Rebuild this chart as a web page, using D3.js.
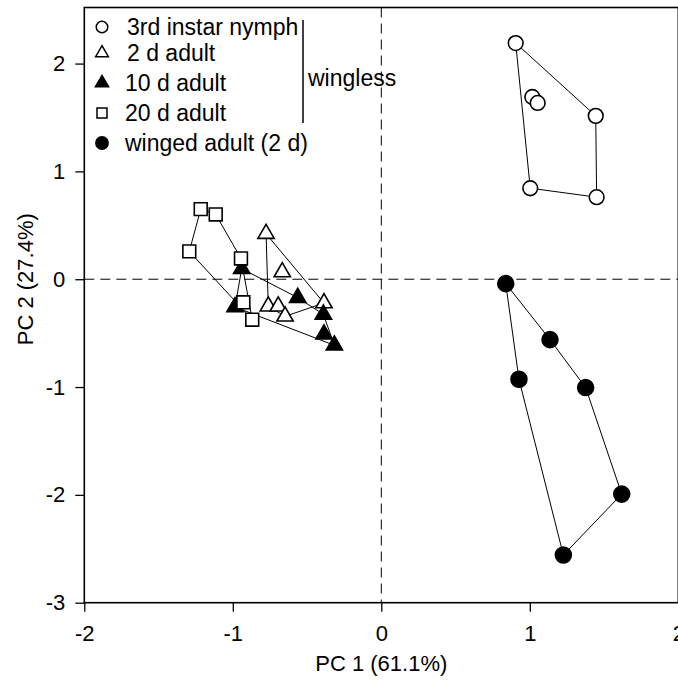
<!DOCTYPE html>
<html>
<head>
<meta charset="utf-8">
<script src="https://cdn.jsdelivr.net/npm/d3@7"></script>
<style>
  body { margin: 0; background: #fff; }
  svg { display: block; font-family: "Liberation Sans", Arial, sans-serif; }
</style>
</head>
<body>
<svg id="chart" width="678" height="684"></svg>
<script>
// group names (legend order)
var groups = ["3rd instar nymph", "2 d adult", "10 d adult", "20 d adult", "winged adult (2 d)"];

// PC scores per group, [pc1, pc2]
var nymph = [[0.905, 2.19], [1.017, 1.69], [1.053, 1.635], [1.444, 1.515], [1.003, 0.844], [1.45, 0.761]];
var adult2 = [[-0.776, 0.422], [-0.667, 0.066], [-0.761, -0.251], [-0.694, -0.251], [-0.648, -0.344], [-0.386, -0.221]];
var adult10 = [[-0.94, 0.098], [-0.563, -0.171], [-0.985, -0.258], [-0.39, -0.326], [-0.386, -0.511], [-0.316, -0.613]];
var adult20 = [[-1.216, 0.65], [-1.115, 0.601], [-1.293, 0.258], [-0.945, 0.193], [-0.929, -0.214], [-0.869, -0.375]];
var winged = [[0.838, -0.041], [1.136, -0.56], [0.927, -0.928], [1.376, -1.005], [1.619, -1.993], [1.226, -2.558]];

var xTicks = [-2, -1, 0, 1, 2];
var yTicks = [-3, -2, -1, 0, 1, 2];

!function () {
    var svg = d3.select("#chart"),
        left = 84.3, right = 678.3, top = 7.5, bottom = 602.7;

    var x = d3.scaleLinear().domain([-2, 2]).range([left, right]),
        y = d3.scaleLinear().domain([-3, 2.52]).range([bottom, top]);

    var sets = [
        {pts: nymph, shape: d3.symbolCircle, fill: "#fff", size: 170, lsize: 105},
        {pts: adult2, shape: d3.symbolTriangle, fill: "#fff", size: 115, lsize: 70},
        {pts: adult10, shape: d3.symbolTriangle, fill: "#000", size: 115, lsize: 75},
        {pts: adult20, shape: d3.symbolSquare, fill: "#fff", size: 165, lsize: 100},
        {pts: winged, shape: d3.symbolCircle, fill: "#000", size: 200, lsize: 120}
    ];

    // zero reference lines
    svg.append("line")
        .attr("x1", x(0)).attr("x2", x(0)).attr("y1", top).attr("y2", bottom)
        .attr("stroke", "#000").attr("stroke-width", 1).attr("stroke-dasharray", "10,6");
    svg.append("line")
        .attr("x1", left).attr("x2", right).attr("y1", y(0)).attr("y2", y(0))
        .attr("stroke", "#000").attr("stroke-width", 1).attr("stroke-dasharray", "10,6");

    // convex hull around each group
    var line = d3.line().x(function (d) { return x(d[0]); }).y(function (d) { return y(d[1]); });
    sets.forEach(function (s) {
        var hull = d3.polygonHull(s.pts);
        svg.append("path")
            .attr("d", line(hull) + "Z")
            .attr("fill", "none")
            .attr("stroke", "#000")
            .attr("stroke-width", 1);
    });

    // markers
    sets.forEach(function (s) {
        svg.selectAll(null)
            .data(s.pts)
            .enter().append("path")
            .attr("transform", function (d) {
                return "translate(" + x(d[0]) + "," + y(d[1]) + ")";
            })
            .attr("d", d3.symbol().type(s.shape).size(s.size))
            .attr("fill", s.fill)
            .attr("stroke", "#000")
            .attr("stroke-width", 1.6);
    });

    // axes
    var ax = svg.append("g")
        .attr("transform", "translate(0," + bottom + ")")
        .call(d3.axisBottom(x).tickValues(xTicks).tickSize(9).tickPadding(14).tickFormat(d3.format("d")));
    var ay = svg.append("g")
        .attr("transform", "translate(" + left + ",0)")
        .call(d3.axisLeft(y).tickValues(yTicks).tickSize(9).tickPadding(10).tickFormat(d3.format("d")));
    [ax, ay].forEach(function (a) {
        a.select(".domain").remove();
        a.selectAll("line").attr("stroke", "#000").attr("stroke-width", 1.3);
        a.selectAll("text").attr("font-size", 22).attr("fill", "#000")
            .attr("font-family", "Liberation Sans, Arial, sans-serif");
    });
    ax.selectAll("text").text(function (d) { return d < 0 ? "-" + Math.abs(d) : d; });
    ay.selectAll("text").text(function (d) { return d < 0 ? "-" + Math.abs(d) : d; });

    // frame
    svg.append("rect")
        .attr("x", left).attr("y", top)
        .attr("width", right - left).attr("height", bottom - top)
        .attr("fill", "none").attr("stroke", "#000").attr("stroke-width", 1.6);

    // axis titles
    svg.append("text")
        .attr("x", x(0)).attr("y", 671)
        .attr("text-anchor", "middle").attr("font-size", 22)
        .text("PC 1 (61.1%)");
    svg.append("text")
        .attr("transform", "translate(33," + y(0) + ") rotate(-90)")
        .attr("text-anchor", "middle").attr("font-size", 22)
        .text("PC 2 (27.4%)");

    // legend
    var rowY = [27, 53, 83, 113, 143];
    var lg = svg.append("g");
    sets.forEach(function (s, i) {
        var ly = rowY[i];
        lg.append("path")
            .attr("transform", "translate(102," + ly + ")")
            .attr("d", d3.symbol().type(s.shape).size(s.lsize))
            .attr("fill", s.fill).attr("stroke", "#000").attr("stroke-width", 1.5);
        lg.append("text")
            .attr("x", i < 2 ? 127 : 125).attr("y", ly).attr("dy", "0.36em")
            .attr("font-size", 23)
            .text(groups[i]);
    });
    lg.append("line")
        .attr("x1", 303).attr("x2", 303).attr("y1", 20).attr("y2", 123)
        .attr("stroke", "#000").attr("stroke-width", 1.5);
    lg.append("text")
        .attr("x", 308).attr("y", 78).attr("dy", "0.36em")
        .attr("font-size", 23)
        .text("wingless");
}();
</script>
</body>
</html>
